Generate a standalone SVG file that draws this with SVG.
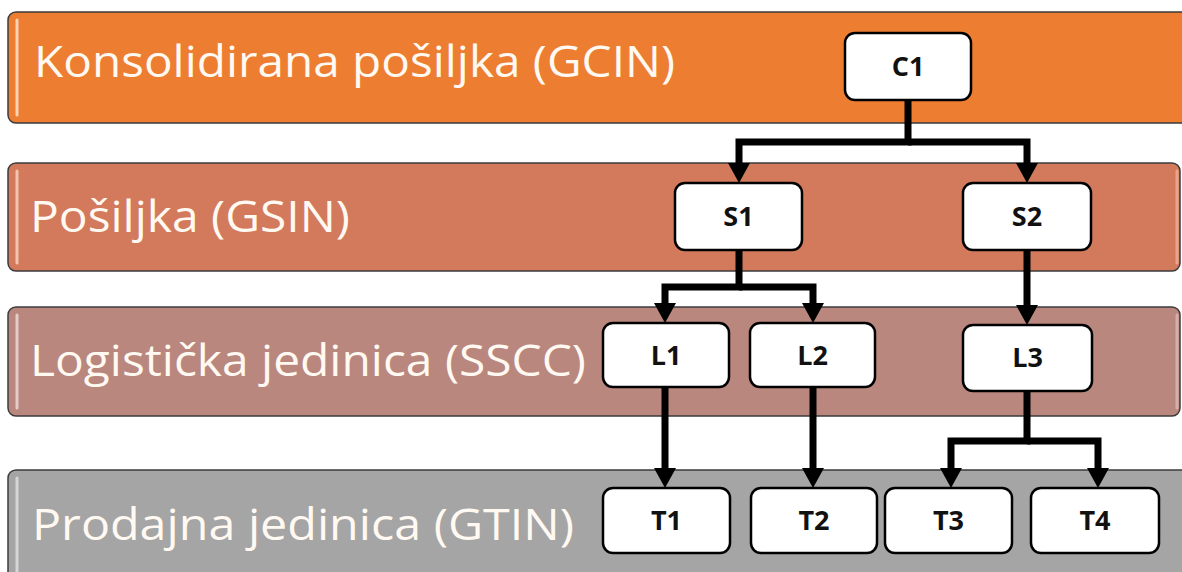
<svg xmlns="http://www.w3.org/2000/svg" width="1182" height="572" viewBox="0 0 1182 572">
<defs>
<style>
.band{stroke:#3b3b3b;stroke-width:1.5}
.hl{stroke-width:3;stroke-linecap:round;fill:none}
.lbl{font-family:"Open Sans","Noto Sans",sans-serif;font-size:44px;fill:#FFF9F2}
.node rect{fill:#fff;stroke:#000;stroke-width:2.5}
.node text{font-family:"Open Sans","Noto Sans",sans-serif;font-weight:700;font-size:27px;fill:#111;text-anchor:middle}
.conn path{fill:none;stroke:#000;stroke-width:7;stroke-linejoin:miter}
</style>
<marker id="arr" viewBox="0 0 20 22" refX="0" refY="11" markerWidth="20" markerHeight="22" markerUnits="userSpaceOnUse" orient="auto">
<path d="M0,0 L20,11 L0,22 z" fill="#000"/>
</marker>
</defs>
<rect width="1182" height="572" fill="#fff"/>

<g id="band-gcin">
<rect class="band" x="8" y="12" width="1190" height="111" rx="8" fill="#ED7D31"/>
<line class="hl" x1="17" y1="20" x2="17" y2="115" stroke="#FAD3B5"/>
<text class="lbl" x="34" y="77" textLength="641" lengthAdjust="spacingAndGlyphs">Konsolidirana pošiljka (GCIN)</text>
</g>
<g id="band-gsin">
<rect class="band" x="8" y="163" width="1172" height="108" rx="8" fill="#D27A5B"/>
<line class="hl" x1="17" y1="171" x2="17" y2="263" stroke="#F2C3AE"/>
<line class="hl" x1="1177" y1="171" x2="1177" y2="263" stroke="#E8A58C"/>
<text class="lbl" x="30" y="232" textLength="320" lengthAdjust="spacingAndGlyphs">Pošiljka (GSIN)</text>
</g>
<g id="band-sscc">
<rect class="band" x="8" y="307" width="1172" height="109" rx="8" fill="#B9877E"/>
<line class="hl" x1="17" y1="315" x2="17" y2="408" stroke="#E6CCC7"/>
<line class="hl" x1="1177" y1="315" x2="1177" y2="408" stroke="#D3B0AA"/>
<text class="lbl" x="30" y="376" textLength="556" lengthAdjust="spacingAndGlyphs">Logistička jedinica (SSCC)</text>
</g>
<g id="band-gtin">
<rect class="band" x="8" y="470" width="1190" height="120" rx="8" fill="#A5A5A5"/>
<line class="hl" x1="17" y1="478" x2="17" y2="580" stroke="#D6D6D6"/>
<text class="lbl" x="32" y="540" textLength="542" lengthAdjust="spacingAndGlyphs">Prodajna jedinica (GTIN)</text>
</g>

<g class="conn" id="connectors">
<path d="M908,100 V142 H739 V163" marker-end="url(#arr)"/>
<path d="M908,142 H1027 V163" marker-end="url(#arr)"/>
<path d="M739,250 V287 H665 V303" marker-end="url(#arr)"/>
<path d="M739,287 H813 V303" marker-end="url(#arr)"/>
<path d="M1027,250 V305" marker-end="url(#arr)"/>
<path d="M665,387 V468" marker-end="url(#arr)"/>
<path d="M813,387 V468" marker-end="url(#arr)"/>
<path d="M1027,391 V441 H951 V468" marker-end="url(#arr)"/>
<path d="M1027,441 H1098 V468" marker-end="url(#arr)"/>
</g>

<g class="node" id="C1"><rect x="845" y="33" width="126" height="67" rx="10"/><text x="908" y="76">C1</text></g>
<g class="node" id="S1"><rect x="675" y="183" width="127" height="67" rx="10"/><text x="738.5" y="226">S1</text></g>
<g class="node" id="S2"><rect x="963" y="183" width="128" height="67" rx="10"/><text x="1027" y="226">S2</text></g>
<g class="node" id="L1"><rect x="603" y="323" width="126" height="64" rx="10"/><text x="666" y="365">L1</text></g>
<g class="node" id="L2"><rect x="750" y="323" width="125" height="64" rx="10"/><text x="812.5" y="365">L2</text></g>
<g class="node" id="L3"><rect x="963" y="325" width="129" height="66" rx="10"/><text x="1027.5" y="367">L3</text></g>
<g class="node" id="T1"><rect x="603" y="488" width="127" height="65" rx="10"/><text x="666.5" y="530">T1</text></g>
<g class="node" id="T2"><rect x="751" y="488" width="126" height="65" rx="10"/><text x="814" y="530">T2</text></g>
<g class="node" id="T3"><rect x="885" y="488" width="127" height="65" rx="10"/><text x="948.5" y="530">T3</text></g>
<g class="node" id="T4"><rect x="1031" y="488" width="128" height="65" rx="10"/><text x="1095" y="530">T4</text></g>
</svg>
